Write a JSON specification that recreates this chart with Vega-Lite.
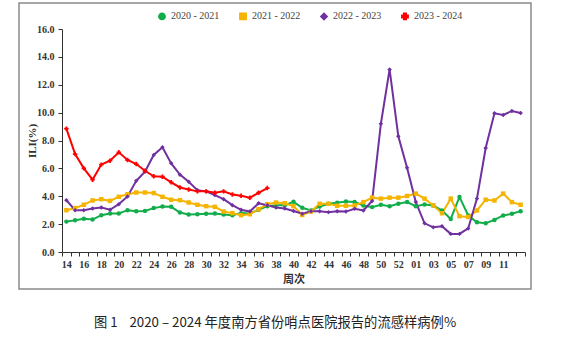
{
  "$schema": "https://vega.github.io/schema/vega-lite/v6.json",
  "width": 512,
  "height": 286,
  "padding": {"left": 19, "top": 3, "right": 10, "bottom": 15},
  "autosize": {"type": "pad"},
  "background": "white",
  "config": {
    "view": {"stroke": "#8a8a8a", "strokeWidth": 1.5},
    "axis": {"grid": false, "labelFont": "Liberation Serif", "labelFontWeight": "bold", "labelFontSize": 10, "labelColor": "#333333", "domainColor": "#333333", "tickColor": "#333333", "titleColor": "#333333"}
  },
  "title": {"text": "图 1\u00a0\u00a0\u00a0\u00a02020\u00a0–\u00a02024 年度南方省份哨点医院报告的流感样病例%", "orient": "bottom", "anchor": "middle", "font": "Noto Sans CJK SC", "fontSize": 13.3, "fontWeight": "normal", "color": "#222222", "offset": 27},
  "data": {"values": [
    {"i":0,"wk":"14","s":"2020 - 2021","v":2.18},{"i":1,"wk":"15","s":"2020 - 2021","v":2.28},{"i":2,"wk":"16","s":"2020 - 2021","v":2.38},{"i":3,"wk":"17","s":"2020 - 2021","v":2.33},{"i":4,"wk":"18","s":"2020 - 2021","v":2.64},{"i":5,"wk":"19","s":"2020 - 2021","v":2.76},{"i":6,"wk":"20","s":"2020 - 2021","v":2.76},{"i":7,"wk":"21","s":"2020 - 2021","v":3.0},{"i":8,"wk":"22","s":"2020 - 2021","v":2.93},{"i":9,"wk":"23","s":"2020 - 2021","v":2.95},{"i":10,"wk":"24","s":"2020 - 2021","v":3.15},{"i":11,"wk":"25","s":"2020 - 2021","v":3.27},{"i":12,"wk":"26","s":"2020 - 2021","v":3.24},{"i":13,"wk":"27","s":"2020 - 2021","v":2.83},{"i":14,"wk":"28","s":"2020 - 2021","v":2.69},{"i":15,"wk":"29","s":"2020 - 2021","v":2.71},{"i":16,"wk":"30","s":"2020 - 2021","v":2.74},{"i":17,"wk":"31","s":"2020 - 2021","v":2.76},{"i":18,"wk":"32","s":"2020 - 2021","v":2.69},{"i":19,"wk":"33","s":"2020 - 2021","v":2.64},{"i":20,"wk":"34","s":"2020 - 2021","v":2.79},{"i":21,"wk":"35","s":"2020 - 2021","v":2.76},{"i":22,"wk":"36","s":"2020 - 2021","v":3.03},{"i":23,"wk":"37","s":"2020 - 2021","v":3.29},{"i":24,"wk":"38","s":"2020 - 2021","v":3.36},{"i":25,"wk":"39","s":"2020 - 2021","v":3.36},{"i":26,"wk":"40","s":"2020 - 2021","v":3.6},{"i":27,"wk":"41","s":"2020 - 2021","v":3.17},{"i":28,"wk":"42","s":"2020 - 2021","v":2.98},{"i":29,"wk":"43","s":"2020 - 2021","v":3.27},{"i":30,"wk":"44","s":"2020 - 2021","v":3.46},{"i":31,"wk":"45","s":"2020 - 2021","v":3.54},{"i":32,"wk":"46","s":"2020 - 2021","v":3.63},{"i":33,"wk":"47","s":"2020 - 2021","v":3.58},{"i":34,"wk":"48","s":"2020 - 2021","v":3.34},{"i":35,"wk":"49","s":"2020 - 2021","v":3.22},{"i":36,"wk":"50","s":"2020 - 2021","v":3.39},{"i":37,"wk":"51","s":"2020 - 2021","v":3.29},{"i":38,"wk":"52","s":"2020 - 2021","v":3.46},{"i":39,"wk":"53","s":"2020 - 2021","v":3.58},{"i":40,"wk":"01","s":"2020 - 2021","v":3.29},{"i":41,"wk":"02","s":"2020 - 2021","v":3.41},{"i":42,"wk":"03","s":"2020 - 2021","v":3.34},{"i":43,"wk":"04","s":"2020 - 2021","v":2.98},{"i":44,"wk":"05","s":"2020 - 2021","v":2.37},{"i":45,"wk":"06","s":"2020 - 2021","v":3.95},{"i":46,"wk":"07","s":"2020 - 2021","v":2.62},{"i":47,"wk":"08","s":"2020 - 2021","v":2.13},{"i":48,"wk":"09","s":"2020 - 2021","v":2.06},{"i":49,"wk":"10","s":"2020 - 2021","v":2.3},{"i":50,"wk":"11","s":"2020 - 2021","v":2.62},{"i":51,"wk":"12","s":"2020 - 2021","v":2.74},{"i":52,"wk":"13","s":"2020 - 2021","v":2.93},
    {"i":0,"wk":"14","s":"2021 - 2022","v":3.0},{"i":1,"wk":"15","s":"2021 - 2022","v":3.15},{"i":2,"wk":"16","s":"2021 - 2022","v":3.39},{"i":3,"wk":"17","s":"2021 - 2022","v":3.7},{"i":4,"wk":"18","s":"2021 - 2022","v":3.79},{"i":5,"wk":"19","s":"2021 - 2022","v":3.67},{"i":6,"wk":"20","s":"2021 - 2022","v":3.96},{"i":7,"wk":"21","s":"2021 - 2022","v":4.15},{"i":8,"wk":"22","s":"2021 - 2022","v":4.27},{"i":9,"wk":"23","s":"2021 - 2022","v":4.27},{"i":10,"wk":"24","s":"2021 - 2022","v":4.23},{"i":11,"wk":"25","s":"2021 - 2022","v":3.96},{"i":12,"wk":"26","s":"2021 - 2022","v":3.75},{"i":13,"wk":"27","s":"2021 - 2022","v":3.72},{"i":14,"wk":"28","s":"2021 - 2022","v":3.55},{"i":15,"wk":"29","s":"2021 - 2022","v":3.39},{"i":16,"wk":"30","s":"2021 - 2022","v":3.29},{"i":17,"wk":"31","s":"2021 - 2022","v":3.24},{"i":18,"wk":"32","s":"2021 - 2022","v":2.9},{"i":19,"wk":"33","s":"2021 - 2022","v":2.79},{"i":20,"wk":"34","s":"2021 - 2022","v":2.64},{"i":21,"wk":"35","s":"2021 - 2022","v":2.71},{"i":22,"wk":"36","s":"2021 - 2022","v":3.07},{"i":23,"wk":"37","s":"2021 - 2022","v":3.43},{"i":24,"wk":"38","s":"2021 - 2022","v":3.55},{"i":25,"wk":"39","s":"2021 - 2022","v":3.5},{"i":26,"wk":"40","s":"2021 - 2022","v":3.29},{"i":27,"wk":"41","s":"2021 - 2022","v":2.66},{"i":28,"wk":"42","s":"2021 - 2022","v":2.9},{"i":29,"wk":"43","s":"2021 - 2022","v":3.46},{"i":30,"wk":"44","s":"2021 - 2022","v":3.46},{"i":31,"wk":"45","s":"2021 - 2022","v":3.32},{"i":32,"wk":"46","s":"2021 - 2022","v":3.32},{"i":33,"wk":"47","s":"2021 - 2022","v":3.34},{"i":34,"wk":"48","s":"2021 - 2022","v":3.58},{"i":35,"wk":"49","s":"2021 - 2022","v":3.9},{"i":36,"wk":"50","s":"2021 - 2022","v":3.83},{"i":37,"wk":"51","s":"2021 - 2022","v":3.9},{"i":38,"wk":"52","s":"2021 - 2022","v":3.9},{"i":39,"wk":"53","s":"2021 - 2022","v":4.02},{"i":40,"wk":"01","s":"2021 - 2022","v":4.19},{"i":41,"wk":"02","s":"2021 - 2022","v":3.83},{"i":42,"wk":"03","s":"2021 - 2022","v":3.34},{"i":43,"wk":"04","s":"2021 - 2022","v":2.78},{"i":44,"wk":"05","s":"2021 - 2022","v":3.83},{"i":45,"wk":"06","s":"2021 - 2022","v":2.57},{"i":46,"wk":"07","s":"2021 - 2022","v":2.52},{"i":47,"wk":"08","s":"2021 - 2022","v":2.98},{"i":48,"wk":"09","s":"2021 - 2022","v":3.75},{"i":49,"wk":"10","s":"2021 - 2022","v":3.7},{"i":50,"wk":"11","s":"2021 - 2022","v":4.19},{"i":51,"wk":"12","s":"2021 - 2022","v":3.58},{"i":52,"wk":"13","s":"2021 - 2022","v":3.39},
    {"i":0,"wk":"14","s":"2022 - 2023","v":3.72},{"i":1,"wk":"15","s":"2022 - 2023","v":3.0},{"i":2,"wk":"16","s":"2022 - 2023","v":3.0},{"i":3,"wk":"17","s":"2022 - 2023","v":3.12},{"i":4,"wk":"18","s":"2022 - 2023","v":3.19},{"i":5,"wk":"19","s":"2022 - 2023","v":3.03},{"i":6,"wk":"20","s":"2022 - 2023","v":3.43},{"i":7,"wk":"21","s":"2022 - 2023","v":3.99},{"i":8,"wk":"22","s":"2022 - 2023","v":5.11},{"i":9,"wk":"23","s":"2022 - 2023","v":5.76},{"i":10,"wk":"24","s":"2022 - 2023","v":6.96},{"i":11,"wk":"25","s":"2022 - 2023","v":7.51},{"i":12,"wk":"26","s":"2022 - 2023","v":6.36},{"i":13,"wk":"27","s":"2022 - 2023","v":5.55},{"i":14,"wk":"28","s":"2022 - 2023","v":5.04},{"i":15,"wk":"29","s":"2022 - 2023","v":4.44},{"i":16,"wk":"30","s":"2022 - 2023","v":4.35},{"i":17,"wk":"31","s":"2022 - 2023","v":4.08},{"i":18,"wk":"32","s":"2022 - 2023","v":3.79},{"i":19,"wk":"33","s":"2022 - 2023","v":3.36},{"i":20,"wk":"34","s":"2022 - 2023","v":3.03},{"i":21,"wk":"35","s":"2022 - 2023","v":2.9},{"i":22,"wk":"36","s":"2022 - 2023","v":3.5},{"i":23,"wk":"37","s":"2022 - 2023","v":3.36},{"i":24,"wk":"38","s":"2022 - 2023","v":3.19},{"i":25,"wk":"39","s":"2022 - 2023","v":3.12},{"i":26,"wk":"40","s":"2022 - 2023","v":2.94},{"i":27,"wk":"41","s":"2022 - 2023","v":2.74},{"i":28,"wk":"42","s":"2022 - 2023","v":2.93},{"i":29,"wk":"43","s":"2022 - 2023","v":2.93},{"i":30,"wk":"44","s":"2022 - 2023","v":2.86},{"i":31,"wk":"45","s":"2022 - 2023","v":2.93},{"i":32,"wk":"46","s":"2022 - 2023","v":2.9},{"i":33,"wk":"47","s":"2022 - 2023","v":3.1},{"i":34,"wk":"48","s":"2022 - 2023","v":2.98},{"i":35,"wk":"49","s":"2022 - 2023","v":3.66},{"i":36,"wk":"50","s":"2022 - 2023","v":9.2},{"i":37,"wk":"51","s":"2022 - 2023","v":13.1},{"i":38,"wk":"52","s":"2022 - 2023","v":8.3},{"i":39,"wk":"53","s":"2022 - 2023","v":6.05},{"i":40,"wk":"01","s":"2022 - 2023","v":3.58},{"i":41,"wk":"02","s":"2022 - 2023","v":2.06},{"i":42,"wk":"03","s":"2022 - 2023","v":1.77},{"i":43,"wk":"04","s":"2022 - 2023","v":1.84},{"i":44,"wk":"05","s":"2022 - 2023","v":1.3},{"i":45,"wk":"06","s":"2022 - 2023","v":1.3},{"i":46,"wk":"07","s":"2022 - 2023","v":1.69},{"i":47,"wk":"08","s":"2022 - 2023","v":3.83},{"i":48,"wk":"09","s":"2022 - 2023","v":7.46},{"i":49,"wk":"10","s":"2022 - 2023","v":9.95},{"i":50,"wk":"11","s":"2022 - 2023","v":9.83},{"i":51,"wk":"12","s":"2022 - 2023","v":10.12},{"i":52,"wk":"13","s":"2022 - 2023","v":9.98},
    {"i":0,"wk":"14","s":"2023 - 2024","v":8.85},{"i":1,"wk":"15","s":"2023 - 2024","v":7.03},{"i":2,"wk":"16","s":"2023 - 2024","v":6.0},{"i":3,"wk":"17","s":"2023 - 2024","v":5.19},{"i":4,"wk":"18","s":"2023 - 2024","v":6.27},{"i":5,"wk":"19","s":"2023 - 2024","v":6.55},{"i":6,"wk":"20","s":"2023 - 2024","v":7.15},{"i":7,"wk":"21","s":"2023 - 2024","v":6.6},{"i":8,"wk":"22","s":"2023 - 2024","v":6.31},{"i":9,"wk":"23","s":"2023 - 2024","v":5.83},{"i":10,"wk":"24","s":"2023 - 2024","v":5.43},{"i":11,"wk":"25","s":"2023 - 2024","v":5.4},{"i":12,"wk":"26","s":"2023 - 2024","v":5.0},{"i":13,"wk":"27","s":"2023 - 2024","v":4.63},{"i":14,"wk":"28","s":"2023 - 2024","v":4.49},{"i":15,"wk":"29","s":"2023 - 2024","v":4.35},{"i":16,"wk":"30","s":"2023 - 2024","v":4.35},{"i":17,"wk":"31","s":"2023 - 2024","v":4.25},{"i":18,"wk":"32","s":"2023 - 2024","v":4.35},{"i":19,"wk":"33","s":"2023 - 2024","v":4.13},{"i":20,"wk":"34","s":"2023 - 2024","v":4.03},{"i":21,"wk":"35","s":"2023 - 2024","v":3.89},{"i":22,"wk":"36","s":"2023 - 2024","v":4.25},{"i":23,"wk":"37","s":"2023 - 2024","v":4.59}
  ]},
  "encoding": {
    "x": {"field": "wk", "type": "ordinal", "sort": {"field": "i", "op": "min"},
      "scale": {"type": "band", "paddingInner": 0, "paddingOuter": 0, "range": [43, 506]},
      "axis": {"orient": "bottom", "offset": -37, "tickBand": "extent", "tickSize": 4, "labelAngle": 0, "labelPadding": 3,
        "labelExpr": "indexof(['14','16','18','20','22','24','26','28','30','32','34','36','38','40','42','44','46','48','50','52','01','03','05','07','09','11'], datum.value) >= 0 ? datum.value : ''",
        "title": "周次", "titleFont": "Noto Sans CJK SC", "titleFontWeight": "bold", "titleFontSize": 11, "titlePadding": 4}},
    "y": {"field": "v", "type": "quantitative",
      "scale": {"domain": [0, 16], "range": [249, 26], "nice": false, "zero": true},
      "axis": {"orient": "left", "offset": -43, "values": [0, 2, 4, 6, 8, 10, 12, 14, 16], "format": ".1f", "tickSize": 4, "labelPadding": 4,
        "title": "ILI(%)", "titleFont": "Liberation Serif", "titleFontWeight": "bold", "titleFontSize": 11, "titlePadding": -1}},
    "color": {"field": "s", "type": "nominal",
      "scale": {"domain": ["2020 - 2021", "2021 - 2022", "2022 - 2023", "2023 - 2024"], "range": ["#12ad4b", "#f5b400", "#7030a0", "#ff0000"]},
      "legend": {"orient": "none", "legendX": 138, "legendY": 8, "direction": "horizontal", "title": null, "labelFont": "Liberation Serif", "labelFontSize": 10, "labelColor": "#444444", "symbolSize": 40, "columnPadding": 16, "labelOffset": 4}}
  },
  "layer": [
    {"mark": {"type": "line", "strokeWidth": 2}, "encoding": {"order": {"field": "i", "type": "quantitative"}}},
    {"mark": {"type": "point", "filled": true, "opacity": 1, "size": 20},
      "encoding": {"shape": {"field": "s", "type": "nominal", "scale": {"domain": ["2020 - 2021", "2021 - 2022", "2022 - 2023", "2023 - 2024"], "range": ["circle", "square", "diamond", "cross"]}}}}
  ]
}
